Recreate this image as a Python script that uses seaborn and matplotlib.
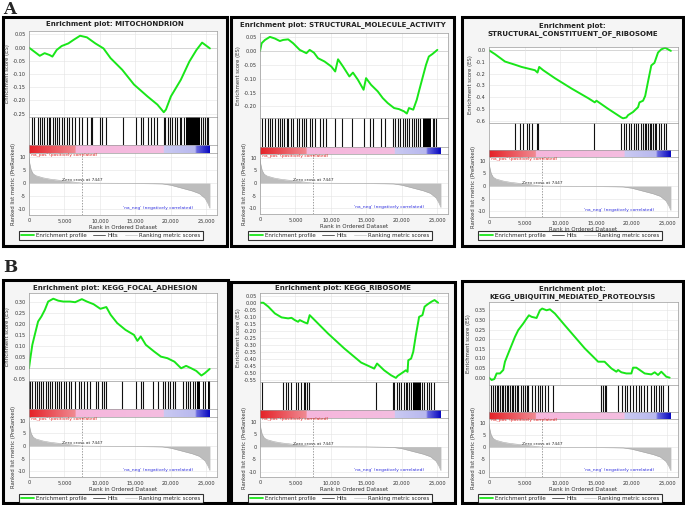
import numpy as np
import pandas as pd
import matplotlib
matplotlib.use("Agg")
import matplotlib.pyplot as plt
import seaborn as sns
from matplotlib.colors import LinearSegmentedColormap
from matplotlib.lines import Line2D
from matplotlib.patches import Rectangle

# ------------------------------------------------------------------ data
titles = [
    "Enrichment plot: MITOCHONDRION",
    "Enrichment plot: STRUCTURAL_MOLECULE_ACTIVITY",
    "Enrichment plot:\nSTRUCTURAL_CONSTITUENT_OF_RIBOSOME",
    "Enrichment plot: KEGG_FOCAL_ADHESION",
    "Enrichment plot: KEGG_RIBOSOME",
    "Enrichment plot:\nKEGG_UBIQUITIN_MEDIATED_PROTEOLYSIS",
]

es_ranks_1 = [0, 1520, 2200, 2900, 3300, 3900, 4600, 5550, 6260, 7200, 8160, 9350, 10500, 11500,
              13140, 14800, 16700, 18100, 19000, 19300, 20000, 21400, 22600, 23600, 24400, 25500]
es_vals_1 = [0.0, -0.031, -0.021, -0.028, -0.034, -0.009, 0.006, 0.016, 0.029, 0.045, 0.039, 0.016,
             -0.003, -0.040, -0.084, -0.140, -0.185, -0.216, -0.245, -0.235, -0.185, -0.122, -0.053,
             -0.009, 0.019, -0.003]

es_ranks_2 = [0, 230, 700, 1400, 2100, 2800, 3270, 3970, 4670, 5600, 6540, 7000, 7600, 8180, 9100,
              10050, 10600, 11000, 11700, 12600, 13100, 13800, 14600, 14950, 15650, 16600, 17300,
              18000, 18900, 19600, 20300, 20700, 21000, 21600, 22100, 22400, 22900, 23400, 23800,
              24300, 25000]
es_vals_2 = [0.0, 0.028, 0.040, 0.051, 0.045, 0.036, 0.040, 0.042, 0.028, 0.004, -0.008, 0.004,
             -0.006, -0.026, -0.038, -0.056, -0.074, -0.030, -0.056, -0.092, -0.078, -0.104, -0.140,
             -0.098, -0.122, -0.146, -0.170, -0.188, -0.206, -0.210, -0.218, -0.226, -0.206, -0.212,
             -0.176, -0.146, -0.098, -0.050, -0.020, -0.011, 0.004]

es_ranks_3 = [0, 840, 2240, 3640, 4570, 5500, 6440, 6800, 7040, 7600, 9240, 11570, 13900, 14830,
              15070, 16700, 18560, 18800, 19260, 19500, 20200, 20900, 21100, 21600, 21900, 22300,
              22760, 23200, 23700, 24160, 24700, 25100, 25500]
es_vals_3 = [0.0, -0.033, -0.096, -0.123, -0.142, -0.156, -0.170, -0.190, -0.142, -0.170, -0.238,
             -0.326, -0.408, -0.444, -0.430, -0.499, -0.573, -0.580, -0.573, -0.553, -0.526, -0.485,
             -0.444, -0.430, -0.389, -0.266, -0.129, -0.107, -0.019, 0.008, 0.022, 0.008, -0.005]

es_ranks_4 = [0, 190, 470, 810, 1280, 1750, 2230, 2700, 3420, 4130, 4840, 5790, 6500, 7450, 8160,
              9100, 10060, 10900, 11500, 12430, 13600, 14800, 15280, 15750, 16460, 17650, 18600,
              19500, 20500, 21440, 22150, 22870, 23580, 24300, 24760, 25470]
es_vals_4 = [0.0, 0.046, 0.107, 0.152, 0.213, 0.236, 0.266, 0.304, 0.317, 0.308, 0.304, 0.304,
             0.301, 0.315, 0.304, 0.292, 0.271, 0.279, 0.244, 0.206, 0.175, 0.152, 0.125, 0.145,
             0.107, 0.076, 0.053, 0.046, 0.030, 0.000, 0.011, 0.000, -0.012, -0.033, -0.023, -0.003]

es_ranks_5 = [0, 470, 1170, 2100, 3040, 3970, 4440, 4900, 5370, 5600, 6300, 6680, 7000, 7700, 9580,
              11900, 14250, 16100, 16500, 17500, 18460, 19160, 19400, 20100, 20560, 20800, 20900,
              21300, 21600, 21970, 22430, 22900, 23200, 23600, 24160, 24600, 25100]
es_vals_5 = [0.0, 0.0, -0.028, -0.076, -0.104, -0.111, -0.107, -0.123, -0.135, -0.123, -0.140,
             -0.147, -0.088, -0.123, -0.218, -0.325, -0.424, -0.467, -0.431, -0.479, -0.514, -0.533,
             -0.519, -0.495, -0.479, -0.490, -0.408, -0.396, -0.348, -0.230, -0.100, -0.088, -0.028,
             -0.012, 0.007, 0.019, 0.0]

es_ranks_6 = [0, 370, 750, 1070, 1540, 2000, 2240, 2700, 3170, 3640, 4100, 4800, 5270, 5600, 5970,
              6670, 7140, 7460, 8070, 8540, 9240, 10630, 12030, 13430, 14600, 15300, 16200, 17160,
              17860, 18100, 18560, 19260, 19960, 20200, 20660, 21130, 21830, 22760, 23230, 23700,
              24160, 24860, 25330]
es_vals_6 = [0.0, -0.012, -0.007, 0.022, 0.022, 0.040, 0.083, 0.126, 0.169, 0.212, 0.247, 0.281,
             0.307, 0.324, 0.316, 0.310, 0.350, 0.359, 0.350, 0.355, 0.333, 0.272, 0.212, 0.152,
             0.109, 0.083, 0.083, 0.048, 0.031, 0.040, 0.028, 0.022, 0.022, 0.052, 0.052, 0.040,
             0.022, 0.017, 0.028, 0.014, 0.031, 0.005, 0.0]

hits_1 = [380, 760, 1230, 1560, 1900, 2180, 2510, 2750, 2990, 3320, 3700, 3930, 4170, 4640, 4880,
          5360, 5590, 6070, 6540, 7010, 7490, 8200, 8670, 8910, 9950, 10240, 10800, 13270, 15070,
          15780, 16110, 16730, 17200, 17580, 18000, 18960, 19240, 19570, 19810, 20190, 20520, 20850,
          21230, 21470, 21800, 24310, 24550, 24790, 25020, 25260]
dense_1 = [(22090, 24080)]

hits_2 = [230, 700, 1080, 1400, 1730, 2110, 2480, 2810, 3040, 3420, 3750, 3980, 4350, 4680, 5150,
          5520, 5850, 6230, 6550, 7020, 7260, 7720, 8430, 8900, 9360, 10530, 11560, 12970, 14650,
          15450, 15920, 16990, 17560, 18730, 19050, 19430, 19800, 20130, 20370, 20740, 21070, 21400,
          21680, 22000, 22240, 22610, 24340, 24580, 24810]
dense_2 = [(22940, 24110)]

hits_3 = [3640, 4340, 4800, 5270, 5600, 5970, 6670, 6810, 14740, 18560, 18890, 19260, 19590, 19960,
          20290, 20660, 20900, 21270, 21600, 21830, 22060, 22300, 22530, 22760, 22990, 23230, 23460,
          23790, 24160, 24530, 24860]
dense_3 = []

hits_4 = [140, 470, 850, 1090, 1420, 1700, 2040, 2370, 2650, 2980, 3220, 3600, 3930, 4170, 4550,
          4880, 5210, 5590, 5970, 6530, 7000, 7390, 7720, 8190, 8660, 9380, 9750, 10230, 10560,
          10800, 13160, 15060, 15770, 16100, 17420, 18130, 18840, 19220, 19550, 19890, 20270, 20640,
          21690, 22060, 22400, 22730, 23100, 23340, 24530, 24760, 25380]
dense_4 = [(0, 200), (23670, 24050), (25250, 25450)]

hits_5 = [230, 3270, 3600, 3970, 4440, 5140, 5370, 5750, 6210, 6400, 6680, 6870, 16360, 18690,
          18930, 19300, 19630, 19860, 20230, 20560, 20790, 21030, 21260, 22900, 23130, 23500, 23830,
          24160, 24530]
dense_5 = [(21500, 22660)]

hits_6 = [280, 610, 840, 1070, 1310, 1540, 1770, 2000, 2240, 2470, 2700, 2940, 3170, 3400, 3640,
          3870, 4100, 4480, 4800, 5040, 5270, 5500, 6060, 6440, 6810, 7140, 7460, 7840, 8300, 9000,
          15770, 16000, 16230, 16460, 18100, 18700, 19030, 19400, 19730, 20200, 20660, 20990, 21360,
          21740, 22200, 22760, 23130, 23460, 23790, 24070, 24400, 25100]
dense_6 = []

es_yticks = [
    [0.05, 0.0, -0.05, -0.10, -0.15, -0.20, -0.25],
    [0.05, 0.0, -0.05, -0.10, -0.15, -0.20],
    [0.0, -0.1, -0.2, -0.3, -0.4, -0.5, -0.6],
    [0.30, 0.25, 0.20, 0.15, 0.10, 0.05, 0.0, -0.05],
    [0.05, 0.0, -0.05, -0.10, -0.15, -0.20, -0.25, -0.30, -0.35, -0.40, -0.45, -0.50, -0.55],
    [0.35, 0.30, 0.25, 0.20, 0.15, 0.10, 0.05, 0.0],
]
es_ylims = [(-0.263, 0.063), (-0.242, 0.065), (-0.62, 0.028), (-0.058, 0.343), (-0.562, 0.069), (-0.038, 0.393)]
es_tickfmt = ["%.2f", "%.2f", "%.1f", "%.2f", "%.2f", "%.2f"]

metric_ranks = [0, 100, 300, 600, 1000, 2000, 3000, 4500, 6000, 7447, 10000, 15000, 18800, 20000,
                21500, 23000, 24000, 24800, 25200, 25500]
metric_vals = [9.5, 7.5, 5.0, 3.5, 2.8, 2.0, 1.5, 1.0, 0.5, 0.0, -0.05, -0.1, -0.3, -0.8, -1.9,
               -3.0, -4.0, -5.8, -7.7, -9.6]
zero_cross = 7447
metric_yticks = [10, 5, 0, -5, -10]

bar_ranks = [0, 6500, 6600, 19000, 19100, 23500, 23700, 25500]
bar_colors = ["#e52228", "#f08a92", "#f6b6dc", "#f4bde0", "#c9c9f2", "#b8b8ee", "#6a6ae0", "#0a0ac0"]

xticks = [0, 5000, 10000, 15000, 20000, 25000]
xtick_labels = ["0", "5,000", "10,000", "15,000", "20,000", "25,000"]

es_ranks = [es_ranks_1, es_ranks_2, es_ranks_3, es_ranks_4, es_ranks_5, es_ranks_6]
es_vals = [es_vals_1, es_vals_2, es_vals_3, es_vals_4, es_vals_5, es_vals_6]
hits = [hits_1, hits_2, hits_3, hits_4, hits_5, hits_6]
dense = [dense_1, dense_2, dense_3, dense_4, dense_5, dense_6]

# ------------------------------------------------------------------ layout (pixels)
W, H = 685, 505
layout = [
    dict(box=(3, 17, 227, 246), x0=29, xr=217, es=31, hit=117, bar=145, rk=153, rb=215, ty=24, lx=111, ly=228),
    dict(box=(231, 17, 454, 246), x0=260, xr=448, es=33, hit=118, bar=147, rk=154, rb=214, ty=25, lx=340, ly=228),
    dict(box=(462, 17, 683, 246), x0=489, xr=678, es=47, hit=123, bar=150, rk=157, rb=217, ty=30, lx=570, ly=228),
    dict(box=(3, 280, 228, 503), x0=29, xr=217, es=293, hit=381, bar=409, rk=417, rb=477, ty=288, lx=111, ly=491),
    dict(box=(231, 282, 455, 503), x0=260, xr=448, es=293, hit=382, bar=410, rk=418, rb=477, ty=288, lx=340, ly=491),
    dict(box=(462, 281, 683, 503), x0=489, xr=678, es=302, hit=385, bar=412, rk=419, rb=477, ty=293, lx=570, ly=491),
]

sns.set_style("white")
plt.rcParams["font.family"] = ["DejaVu Sans"]

fig = plt.figure(figsize=(W / 100, H / 100), dpi=100)
fig.patch.set_facecolor("white")


def rect(l, t, r, b):
    return [l / W, 1 - b / H, (r - l) / W, (b - t) / H]


XMAX = 26500
cmap = LinearSegmentedColormap.from_list(
    "gsea", [(r / bar_ranks[-1], c) for r, c in zip(bar_ranks, bar_colors)])
TS = 3.6
GRID = "#e4e4e4"
SPINE = "#9a9a9a"


def style_axis(ax):
    for s in ax.spines.values():
        s.set_color(SPINE)
        s.set_linewidth(0.5)
    ax.tick_params(axis="both", labelsize=TS, length=1.5, width=0.4, pad=1, colors="#333333")
    ax.set_xlim(0, XMAX)
    ax.set_xticks(xticks)


for i, L in enumerate(layout):
    l, t, r, b = L["box"]
    fig.patches.append(Rectangle((l / W, 1 - b / H), (r - l) / W, (b - t) / H, transform=fig.transFigure,
                                 facecolor="#f5f5f5", edgecolor="black", linewidth=2.2, zorder=-5))
    cx = (l + r) / 2
    fig.text(cx / W, 1 - L["ty"] / H, titles[i], ha="center", va="center", fontsize=5.0,
             fontweight="bold", color="#222222", linespacing=1.15)

    # ES panel
    ax = fig.add_axes(rect(L["x0"], L["es"], L["xr"], L["hit"]))
    ax.set_facecolor("white")
    df = pd.DataFrame({"rank": es_ranks[i], "es": es_vals[i]})
    sns.lineplot(data=df, x="rank", y="es", ax=ax, color="#19e619", linewidth=1.4, estimator=None, sort=False)
    ax.axhline(0, color="#bbbbbb", lw=0.6, zorder=0)
    ax.set_ylim(*es_ylims[i])
    ax.set_yticks(es_yticks[i])
    ax.set_yticklabels([es_tickfmt[i] % v for v in es_yticks[i]])
    style_axis(ax)
    ax.set_xticklabels([])
    ax.tick_params(axis="x", length=0)
    ax.grid(True, color=GRID, lw=0.4)
    ax.set_axisbelow(True)
    ax.set_xlabel("")
    ax.set_ylabel("Enrichment score (ES)", fontsize=3.8, labelpad=2, color="#333333")

    # Hits panel
    axh = fig.add_axes(rect(L["x0"], L["hit"], L["xr"], L["bar"]))
    axh.set_facecolor("white")
    axh.vlines(hits[i], 0, 1, color="#111111", linewidth=0.8)
    for (a, z) in dense[i]:
        axh.axvspan(a, z, color="black", lw=0)
    axh.set_ylim(0, 1)
    style_axis(axh)
    axh.set_xticks([])
    axh.set_yticks([])

    # colour bar
    axb = fig.add_axes(rect(L["x0"], L["bar"], L["xr"], L["rk"]))
    axb.imshow(np.linspace(0, 1, 400)[None, :], aspect="auto", cmap=cmap,
               extent=(0, bar_ranks[-1], 0, 1))
    axb.set_facecolor("white")
    style_axis(axb)
    axb.set_xlim(0, XMAX)
    axb.set_ylim(0, 1)
    axb.set_xticks([])
    axb.set_yticks([])

    # ranked list metric
    axr = fig.add_axes(rect(L["x0"], L["rk"], L["xr"], L["rb"]))
    axr.set_facecolor("white")
    axr.fill_between(metric_ranks, metric_vals, 0, color="#bdbdbd", lw=0)
    sns.lineplot(x=metric_ranks, y=metric_vals, ax=axr, color="#a8a8a8", linewidth=0.4)
    axr.axvline(zero_cross, color="#777777", lw=0.5, ls=(0, (2, 2)))
    axr.set_ylim(-12.2, 11.5)
    axr.set_yticks(metric_yticks)
    axr.set_yticklabels([str(v) for v in metric_yticks])
    style_axis(axr)
    axr.set_xticklabels(xtick_labels)
    axr.grid(True, color=GRID, lw=0.4)
    axr.set_axisbelow(True)
    axr.text(zero_cross, 0.3, "Zero cross at 7447", fontsize=3.2, ha="center", va="bottom", color="#333333")
    axr.text(200, 10.9, "'na_pos' (positively correlated)", fontsize=3.2, ha="left", va="center", color="#e02020")
    axr.text(18200, -9.4, "'na_neg' (negatively correlated)", fontsize=3.2, ha="center", va="center", color="#3030e0")
    axr.set_xlabel("Rank in Ordered Dataset", fontsize=4.0, labelpad=1, color="#333333")
    axr.set_ylabel("Ranked list metric (PreRanked)", fontsize=3.8, labelpad=1, color="#333333")

    handles = [Line2D([], [], color="#19e619", lw=1.3),
               Line2D([], [], color="#444444", lw=0.6),
               Line2D([], [], color="#cccccc", lw=0.6)]
    leg = fig.legend(handles, ["Enrichment profile", "Hits", "Ranking metric scores"],
                     loc="upper center", bbox_to_anchor=(L["lx"] / W, 1 - L["ly"] / H),
                     ncol=3, fontsize=4.0, frameon=True, fancybox=False, handlelength=2.2,
                     handletextpad=0.4, columnspacing=1.2, borderpad=0.35)
    leg.get_frame().set_edgecolor("black")
    leg.get_frame().set_linewidth(0.8)
    leg.get_frame().set_facecolor("white")

fig.text(3 / W, 1 - 9 / H, "A", fontsize=12, fontweight="bold", family="DejaVu Serif", va="center", ha="left")
fig.text(3 / W, 1 - 268 / H, "B", fontsize=12, fontweight="bold", family="DejaVu Serif", va="center", ha="left")

fig.savefig("out.png", dpi=100)
